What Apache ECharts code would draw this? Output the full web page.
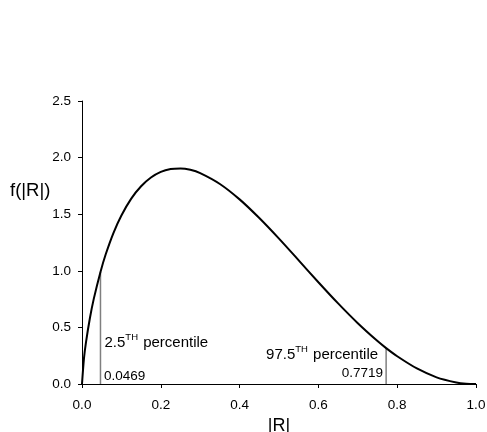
<!DOCTYPE html>
<html>
<head>
<meta charset="utf-8">
<script src="https://cdn.jsdelivr.net/npm/echarts@6/dist/echarts.min.js"></script>
<style>html,body{margin:0;padding:0;background:#fff}#c{width:487px;height:432px}</style>
</head>
<body>
<div id="c"></div>
<script>
// Density curve f(|R|)
const rValues = [0, 0.005, 0.01, 0.02, 0.03, 0.0469, 0.06, 0.08, 0.1, 0.125, 0.15, 0.175, 0.2, 0.225, 0.25, 0.275, 0.3, 0.35, 0.4, 0.45, 0.5, 0.55, 0.6, 0.65, 0.7, 0.75, 0.7719, 0.8, 0.85, 0.9, 0.95, 0.975, 1.0];
const densityValues = [0, 0.227, 0.366, 0.581, 0.754, 0.99, 1.144, 1.336, 1.489, 1.638, 1.747, 1.824, 1.874, 1.899, 1.904, 1.892, 1.863, 1.767, 1.631, 1.466, 1.284, 1.092, 0.899, 0.712, 0.537, 0.379, 0.317, 0.245, 0.137, 0.059, 0.014, 0.003, 0];
// Percentiles
const lowerPct = 0.0469, lowerPctDensity = 0.99, lowerLabel = '2.5', lowerValueText = '0.0469';
const upperPct = 0.7719, upperPctDensity = 0.317, upperLabel = '97.5', upperValueText = '0.7719';
const xTicks = { min: 0, max: 1.0, interval: 0.2 };
const yTicks = { min: 0, max: 2.5, interval: 0.5 };
const xName = '|R|', yName = 'f(|R|)';

const FONT = "'Liberation Sans', Arial, sans-serif";
const chart = echarts.init(document.getElementById('c'), null, { renderer: 'canvas' });
const curve = rValues.map((x, i) => [x, densityValues[i]]);

chart.setOption({
  animation: false,
  backgroundColor: '#fff',
  grid: { left: 82, right: 11, top: 101, bottom: 48, containLabel: false, outerBoundsMode: 'none' },
  xAxis: {
    type: 'value', min: xTicks.min, max: xTicks.max, interval: xTicks.interval,
    name: xName, nameLocation: 'middle', nameGap: 29,
    nameTextStyle: { fontFamily: FONT, fontSize: 18, color: '#000' },
    axisLine: { show: true, lineStyle: { color: '#000', width: 1 } },
    axisTick: { show: true, inside: false, length: 4, lineStyle: { color: '#000' } },
    axisLabel: { fontFamily: FONT, fontSize: 13.5, color: '#000', margin: 14, formatter: v => v.toFixed(1) },
    splitLine: { show: false }
  },
  yAxis: {
    type: 'value', min: yTicks.min, max: yTicks.max, interval: yTicks.interval,
    axisLine: { show: true, lineStyle: { color: '#000', width: 1 } },
    axisTick: { show: true, inside: false, length: 4, lineStyle: { color: '#000' } },
    axisLabel: { fontFamily: FONT, fontSize: 13.5, color: '#000', margin: 11, formatter: v => v.toFixed(1) },
    splitLine: { show: false }
  },
  series: [
    { type: 'line', data: [[lowerPct, 0], [lowerPct, lowerPctDensity]], showSymbol: false, symbol: 'none',
      lineStyle: { color: '#7f7f7f', width: 1.5 }, z: 1 },
    { type: 'line', data: [[upperPct, 0], [upperPct, upperPctDensity]], showSymbol: false, symbol: 'none',
      lineStyle: { color: '#7f7f7f', width: 1.5 }, z: 1 },
    { type: 'line', data: curve, smooth: 0.3, showSymbol: false, symbol: 'none',
      lineStyle: { color: '#000', width: 2 }, z: 3 }
  ]
});

const pLow = chart.convertToPixel({ gridIndex: 0 }, [lowerPct, 0]);
const pUp = chart.convertToPixel({ gridIndex: 0 }, [upperPct, 0]);
const rich = {
  a: { fontFamily: FONT, fontSize: 15, color: '#000', lineHeight: 19, verticalAlign: 'bottom' },
  s: { fontFamily: FONT, fontSize: 9.5, color: '#000', lineHeight: 19, verticalAlign: 'top', padding: [1, 1, 0, 0] }
};
chart.setOption({
  graphic: [
    { type: 'text', x: 10, y: 191, style: { text: yName, font: '18.5px ' + FONT, fill: '#000', textVerticalAlign: 'middle' } },
    { type: 'text', x: pLow[0] + 3.5, y: pLow[1] - 8, style: { text: lowerValueText, font: '13.5px ' + FONT, fill: '#000', textVerticalAlign: 'middle' } },
    { type: 'text', x: pUp[0] - 3, y: pUp[1] - 11, style: { text: upperValueText, font: '13.5px ' + FONT, fill: '#000', textAlign: 'right', textVerticalAlign: 'middle' } },
    { type: 'text', x: pLow[0] + 4, y: pLow[1] - 43, style: { text: '{a|' + lowerLabel + '}{s|TH}{a| percentile}', rich: rich, textVerticalAlign: 'middle' } },
    { type: 'text', x: pUp[0] - 8, y: pUp[1] - 31, style: { text: '{a|' + upperLabel + '}{s|TH}{a| percentile}', rich: rich, textAlign: 'right', textVerticalAlign: 'middle' } }
  ]
});
</script>
</body>
</html>
